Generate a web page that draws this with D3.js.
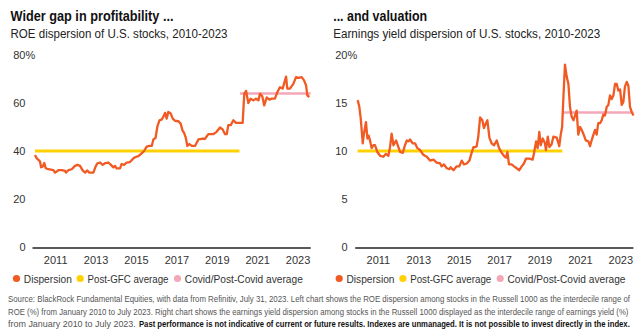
<!DOCTYPE html>
<html><head><meta charset="utf-8">
<script src="https://cdn.jsdelivr.net/npm/d3@7"></script>
<style>body{margin:0;background:#fff}svg{display:block}text{font-family:"Liberation Sans",Arial,sans-serif}</style>
</head><body>
<svg id="c" width="640" height="334"></svg>
<script>
// ---- data ----
const roeYears = [2010.00,2010.08,2010.17,2010.25,2010.30,2010.38,2010.46,2010.53,2010.66,2010.91,2010.99,2011.16,2011.32,2011.49,2011.53,2011.65,2011.82,2011.98,2012.10,2012.23,2012.36,2012.48,2012.59,2012.69,2012.89,2013.00,2013.09,2013.22,2013.35,2013.47,2013.63,2013.76,2013.88,2013.96,2014.04,2014.21,2014.29,2014.41,2014.54,2014.70,2014.83,2014.95,2015.12,2015.28,2015.40,2015.53,2015.66,2015.78,2015.86,2015.97,2016.06,2016.16,2016.27,2016.35,2016.44,2016.52,2016.60,2016.72,2016.82,2016.93,2017.10,2017.21,2017.31,2017.38,2017.46,2017.54,2017.64,2017.76,2017.92,2018.09,2018.25,2018.42,2018.58,2018.83,2018.99,2019.16,2019.29,2019.41,2019.49,2019.57,2019.69,2019.82,2019.95,2020.15,2020.28,2020.36,2020.45,2020.56,2020.68,2020.81,2020.94,2021.06,2021.14,2021.25,2021.35,2021.47,2021.60,2021.72,2021.88,2022.00,2022.13,2022.26,2022.43,2022.49,2022.62,2022.79,2022.92,2023.04,2023.20,2023.32,2023.42,2023.48,2023.58];
const roeValues = [38.3,37,36.3,35.6,33.2,33.5,35,32.8,32.4,32,31,32,32,31.7,31,32,32.4,33.8,34.2,33.8,31.9,31,31.9,31,31,33.5,34.9,35.2,34.2,34.9,35.2,34.2,33.2,33.8,32.8,32.8,34.6,34.2,35.2,35.4,36.6,37.4,37.9,39,40,41.8,42.1,42.1,44.8,45.5,50.3,52.8,53.1,54.2,55.9,53.5,56.3,55.6,53.5,52.6,52.4,51.4,48.4,47.6,45.7,42.1,42.9,42.1,42.1,44.8,45.1,45.1,47,47,48,49.8,49,47,47,50.8,50.8,52.8,51.7,51.7,51.7,63.9,65,60,61.8,61.1,61.8,61.1,63.9,62.8,59,62.3,61.4,61.8,61.8,64.6,66.6,66,71,66,66,68,70.8,70.5,70.8,69.4,67.3,63.2,62.5];
const eyYears = [2010.00,2010.08,2010.15,2010.25,2010.31,2010.41,2010.48,2010.54,2010.61,2010.69,2010.78,2010.86,2010.97,2011.11,2011.27,2011.39,2011.52,2011.60,2011.68,2011.77,2011.90,2011.98,2012.10,2012.23,2012.34,2012.43,2012.51,2012.59,2012.72,2012.84,2012.95,2013.09,2013.25,2013.42,2013.58,2013.75,2013.91,2014.08,2014.16,2014.27,2014.41,2014.54,2014.60,2014.74,2014.90,2015.03,2015.15,2015.26,2015.40,2015.53,2015.64,2015.73,2015.81,2015.89,2015.97,2016.06,2016.17,2016.25,2016.35,2016.42,2016.52,2016.63,2016.75,2016.88,2017.00,2017.13,2017.24,2017.34,2017.41,2017.49,2017.62,2017.74,2017.87,2018.00,2018.12,2018.23,2018.33,2018.50,2018.66,2018.73,2018.83,2018.91,2018.99,2019.06,2019.16,2019.27,2019.32,2019.41,2019.49,2019.60,2019.69,2019.85,2019.98,2020.05,2020.12,2020.18,2020.26,2020.35,2020.43,2020.51,2020.59,2020.68,2020.76,2020.84,2020.92,2021.01,2021.09,2021.17,2021.29,2021.42,2021.50,2021.58,2021.67,2021.75,2021.83,2021.91,2022.00,2022.08,2022.16,2022.24,2022.33,2022.41,2022.49,2022.57,2022.66,2022.74,2022.82,2022.90,2022.99,2023.07,2023.15,2023.23,2023.32,2023.40,2023.48,2023.56,2023.65];
const eyValues = [15.3,14.6,13.4,10.8,11.8,13,11.3,11.6,11.1,10.3,10.6,10.6,9.9,9.5,9.4,9.7,9.5,10.4,11.8,10.6,11.1,10.6,9.9,9.8,10.6,11.1,11,11.2,10.8,10.8,10.3,10.1,9.6,9.4,9,9.1,8.8,8.7,8.4,8.6,8.2,8.1,8.3,8,8.4,8.4,9,8.6,8.7,9,9.8,10.4,10.4,10.5,11.5,13.5,13.2,12.4,12.9,13.2,11.4,10.8,10.6,11.1,10.3,9.8,9.5,9.3,9.9,8.6,8.6,8.4,8.2,8,8.4,8.7,9.2,9.2,9.1,9.8,11,10.3,12,10.6,11.3,10.8,10.1,11.5,10.4,10.7,11.5,11.4,10.5,11.7,12.5,15.4,19,17.7,17,14.6,13.6,13.2,13.7,14.2,11.7,12.5,12.2,11.8,11.1,11,10.5,11.1,11.7,12.2,11.7,12.9,12.9,13.2,13.8,13.7,14.6,14.8,15.8,15.4,15.8,17,17,16.3,16.4,14.8,15.1,16.7,17.2,16.8,14.6,14.1,13.7];
const roeAverages = [{name:"Post-GFC average", start:2010.0, end:2020.12, value:40},{name:"Covid/Post-Covid average", start:2020.15, end:2023.65, value:64}];
const eyAverages = [{name:"Post-GFC average", start:2010.0, end:2020.13, value:10},{name:"Covid/Post-Covid average", start:2020.13, end:2023.65, value:14}];
const xTicks = [2011,2013,2015,2017,2019,2021,2023];
const roeYTicks = [0,20,40,60,80];
const eyYTicks = [0,5,10,15,20];
const legendItems = ["Dispersion","Post-GFC average","Covid/Post-Covid average"];
const titles = [["Wider gap in profitability ...","ROE dispersion of U.S. stocks, 2010-2023"],["... and valuation","Earnings yield dispersion of U.S. stocks, 2010-2023"]];
const footLines = ["Source: BlackRock Fundamental Equities, with data from Refinitiv, July 31, 2023. Left chart shows the ROE dispersion among stocks in the Russell 1000 as the interdecile range of",
"ROE (%) from January 2010 to July 2023. Right chart shows the earnings yield dispersion among stocks in the Russell 1000 displayed as the interdecile range of earnings yield (%)",
"from January 2010 to July 2023.",
"Past performance is not indicative of current or future results. Indexes are unmanaged. It is not possible to invest directly in the index."];

const colors = {disp:"#F15A22", gfc:"#FFD100", covid:"#F4A7B9"};
const svg = d3.select("#c");

function fitText(sel, w) { sel.attr("textLength", w).attr("lengthAdjust", "spacingAndGlyphs"); return sel; }

function panel(ox, years, values, avgs, yTicks, yMax, title, lblEnd, tw) {
  const g = svg.append("g");
  const x = d3.scaleLinear().domain([2010, 2023.65]).range([ox, ox + 13.65*20.2]);
  const y = d3.scaleLinear().domain([0, yMax]).range([247, 55]);
  fitText(g.append("text").attr("x", ox-24.5).attr("y", 21).attr("font-size", 14.5).attr("font-weight", "bold").attr("fill","#111").text(title[0]), tw[0]);
  fitText(g.append("text").attr("x", ox-24.5).attr("y", 37.5).attr("font-size", 12.5).attr("fill","#222").text(title[1]), tw[1]);
  yTicks.forEach(t => {
    g.append("text").attr("x", lblEnd).attr("y", y(t)).attr("dy","0.35em").attr("text-anchor","end")
      .attr("font-size", 11).attr("fill","#333").text(t);
    if (t === yMax) g.append("text").attr("x", lblEnd).attr("y", y(t)).attr("dy","0.35em").attr("font-size", 11).attr("fill","#333").text("%");
  });
  const ax = g.append("g").attr("transform", `translate(0,${y(0)+1})`)
    .call(d3.axisBottom(x).tickValues(xTicks).tickFormat(d3.format("d")).tickSize(0).tickPadding(8));
  ax.select(".domain").remove();
  ax.selectAll("text").attr("font-size", 11).attr("fill","#333").attr("font-family","Liberation Sans, Arial, sans-serif");
  g.append("line").attr("x1", ox-2.5).attr("x2", x(2023.65)).attr("y1", y(0)+1).attr("y2", y(0)+1).attr("stroke","#222").attr("stroke-width",1.5);
  const ac = [colors.gfc, colors.covid];
  avgs.forEach((a,i) => {
    g.append("line").attr("x1", x(a.start)).attr("x2", x(a.end)).attr("y1", y(a.value)).attr("y2", y(a.value))
      .attr("stroke", ac[i]).attr("stroke-width", i===0?3:2.5);
  });
  const line = d3.line().x((d,i)=>x(years[i])).y(d=>y(d));
  g.append("path").datum(values).attr("d", line).attr("fill","none").attr("stroke", colors.disp).attr("stroke-width", 2.3).attr("stroke-linejoin","round");
  // legend
  const dotOff = [-18.5, 45.2, 142.5];
  const txtW = [48, 81, 118];
  const lc = [colors.disp, colors.gfc, colors.covid];
  legendItems.forEach((t,i) => {
    g.append("circle").attr("cx", ox+dotOff[i]).attr("cy", 278.5).attr("r", 3.6).attr("fill", lc[i]);
    fitText(g.append("text").attr("x", ox+dotOff[i]+7.3).attr("y", 278.5).attr("dy","0.35em").attr("font-size", 11.5).attr("fill","#333").text(t), txtW[i]);
  });
}
panel(35, roeYears, roeValues, roeAverages, roeYTicks, 80, titles[0], 25.5, [163, 217]);
panel(357.7, eyYears, eyValues, eyAverages, eyYTicks, 20, titles[1], 347.5, [94, 267]);

// footnote (horizontally condensed to fit the reference widths)
const fn = svg.append("g").attr("font-size", 9.5);
function footLine(txt, x0, yb, w, bold) {
  const t = fn.append("text").attr("x", 0).attr("y", 0).attr("fill", bold ? "#111" : "#555")
    .attr("font-weight", bold ? "bold" : "normal").text(txt);
  const nat = t.node().getComputedTextLength();
  t.attr("transform", `translate(${x0},${yb}) scale(${w/nat},1)`);
}
footLine(footLines[0], 8, 302, 623, false);
footLine(footLines[1], 8, 314.5, 621, false);
footLine(footLines[2], 8, 327, 128, false);
footLine(footLines[3], 139, 327, 492, true);
</script>
</body></html>
